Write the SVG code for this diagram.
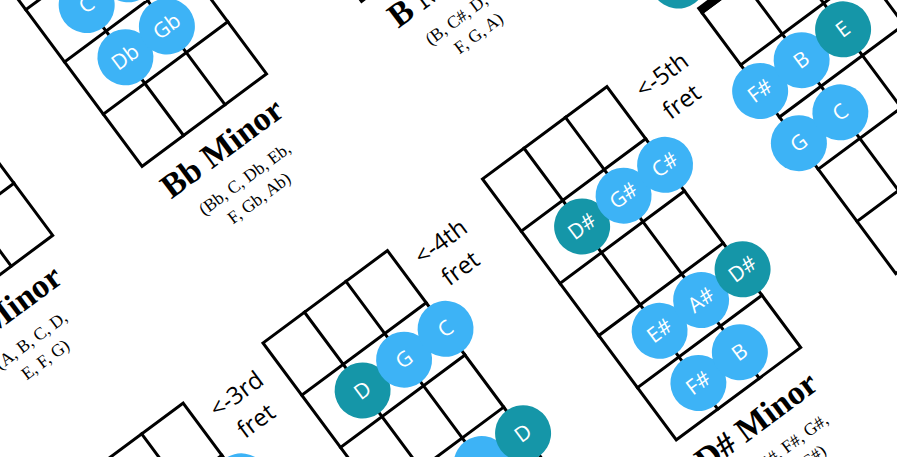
<svg xmlns="http://www.w3.org/2000/svg" width="897" height="457" viewBox="0 0 897 457">
<style>
.grid{fill:none;stroke:#000;stroke-width:3;stroke-linecap:square;stroke-linejoin:miter}
.n{fill:#3db3f6}
.r{fill:#1596a8}
.nt{font-family:"Open Sans","Noto Sans",sans-serif;font-size:21px;font-weight:400;fill:#fff;text-anchor:middle}
.title{font-family:"Liberation Serif",serif;font-size:34px;font-weight:bold;fill:#000;text-anchor:middle}
.sub{font-family:"Liberation Serif",serif;font-size:17.5px;fill:#000;text-anchor:middle}
.fret{font-family:"Open Sans","Noto Sans",sans-serif;font-size:24px;fill:#000;text-anchor:middle}
</style>
<defs>
<g id="board" class="grid">
<rect x="0" y="0" width="155" height="325"/>
<path d="M0 65H155M0 130H155M0 195H155M0 260H155M51.67 0V325M103.33 0V325"/>
</g>
</defs>
<rect width="897" height="457" fill="#fff"/>
<g id="connectors"/>

<g id="a-minor" transform="translate(-265.5 66.9) rotate(-36.6)">
<use href="#board"/>
<text class="title" x="75" y="369">A Minor</text>
<text class="sub" x="75" y="402">(A, B, C, D,</text>
<text class="sub" x="75" y="426">E, F, G)</text>
</g>

<g id="bb-minor" transform="translate(-51.7 -94.6) rotate(-36.6)">
<use href="#board"/>
<circle class="n" cx="51.67" cy="162.5" r="28"/>
<text class="nt" x="51.67" y="169.5">C</text>
<circle class="n" cx="103.33" cy="162.5" r="28"/>
<circle class="n" cx="51.67" cy="227.5" r="28"/>
<text class="nt" x="51.67" y="234.5">Db</text>
<circle class="n" cx="103.33" cy="227.5" r="28"/>
<text class="nt" x="103.33" y="234.5">Gb</text>
<text class="title" x="75" y="369">Bb Minor</text>
<text class="sub" x="75" y="402">(Bb, C, Db, Eb,</text>
<text class="sub" x="75" y="426">F, Gb, Ab)</text>
</g>

<g id="b-minor" transform="translate(167.8 -259.6) rotate(-36.6)">
<use href="#board"/>
<text class="title" x="75" y="369">B Minor</text>
<text class="sub" x="75" y="402">(B, C#, D, E,</text>
<text class="sub" x="75" y="426">F, G, A)</text>
</g>

<g id="third-fret" transform="translate(58.7 495.5) rotate(-36.6)">
<use href="#board"/>
<circle class="n" cx="155" cy="97.5" r="28"/>
<text class="fret" x="203" y="33">&lt;-3rd</text>
<text class="fret" x="203" y="66">fret</text>
</g>

<g id="fourth-fret" transform="translate(263 343) rotate(-36.6)">
<use href="#board"/>
<circle class="r" cx="51.67" cy="97.5" r="28"/>
<text class="nt" x="51.67" y="104.5">D</text>
<circle class="n" cx="103.33" cy="97.5" r="28"/>
<text class="nt" x="103.33" y="104.5">G</text>
<circle class="n" cx="155" cy="97.5" r="28"/>
<text class="nt" x="155" y="104.5">C</text>
<circle class="n" cx="103.33" cy="227.5" r="28"/>
<text class="nt" x="103.33" y="234.5">A</text>
<circle class="r" cx="155" cy="227.5" r="28"/>
<text class="nt" x="155" y="234.5">D</text>
<text class="fret" x="203" y="33">&lt;-4th</text>
<text class="fret" x="203" y="66">fret</text>
</g>

<g id="d-sharp-minor" transform="translate(482.5 179) rotate(-36.6)">
<use href="#board"/>
<circle class="r" cx="51.67" cy="97.5" r="28"/>
<text class="nt" x="51.67" y="104.5">D#</text>
<circle class="n" cx="103.33" cy="97.5" r="28"/>
<text class="nt" x="103.33" y="104.5">G#</text>
<circle class="n" cx="155" cy="97.5" r="28"/>
<text class="nt" x="155" y="104.5">C#</text>
<circle class="n" cx="51.67" cy="227.5" r="28"/>
<text class="nt" x="51.67" y="234.5">E#</text>
<circle class="n" cx="103.33" cy="227.5" r="28"/>
<text class="nt" x="103.33" y="234.5">A#</text>
<circle class="r" cx="155" cy="227.5" r="28"/>
<text class="nt" x="155" y="234.5">D#</text>
<circle class="n" cx="51.67" cy="292.5" r="28"/>
<text class="nt" x="51.67" y="299.5">F#</text>
<circle class="n" cx="103.33" cy="292.5" r="28"/>
<text class="nt" x="103.33" y="299.5">B</text>
<text class="fret" x="206" y="32">&lt;-5th</text>
<text class="fret" x="206" y="65">fret</text>
<text class="title" x="75" y="369">D# Minor</text>
<text class="sub" x="75" y="402">(D#, E#, F#, G#,</text>
<text class="sub" x="75" y="426">A#, B, C#)</text>
</g>

<g id="e-minor" transform="translate(702 12.7) rotate(-36.6)">
<use href="#board"/>
<rect x="-1.5" y="-7" width="158" height="8.5" fill="#000"/>
<circle class="r" cx="0" cy="-40" r="28"/>
<circle class="n" cx="0" cy="97.5" r="28"/>
<text class="nt" x="0" y="104.5">F#</text>
<circle class="n" cx="51.67" cy="97.5" r="28"/>
<text class="nt" x="51.67" y="104.5">B</text>
<circle class="r" cx="103.33" cy="97.5" r="28"/>
<text class="nt" x="103.33" y="104.5">E</text>
<circle class="n" cx="0" cy="162.5" r="28"/>
<text class="nt" x="0" y="169.5">G</text>
<circle class="n" cx="51.67" cy="162.5" r="28"/>
<text class="nt" x="51.67" y="169.5">C</text>
</g>
</svg>
